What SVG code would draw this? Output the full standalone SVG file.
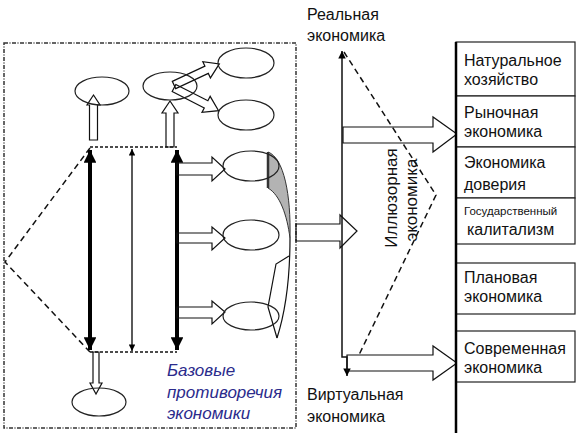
<svg xmlns="http://www.w3.org/2000/svg" width="582" height="438" viewBox="0 0 582 438">
<style>
.t{font-family:"Liberation Sans",Arial,sans-serif;font-size:16px;fill:#111}
.l{font-family:"Liberation Sans",Arial,sans-serif;font-size:16px;fill:#111}
.bl{fill:none;stroke:#111;stroke-width:1.2}
.el{fill:none;stroke:#222;stroke-width:1.2}
.box{fill:#fff;stroke:#222;stroke-width:1.2}
.dash{fill:none;stroke:#111;stroke-width:1.5;stroke-dasharray:6,4}
.fd{fill:none;stroke:#111;stroke-width:1.5;stroke-dasharray:3,2}
.it{font-family:"Liberation Sans",Arial,sans-serif;font-size:17px;font-style:italic;fill:#2b2b8c}
</style>
<defs>
<marker id="hb" viewBox="0 0 10 10" refX="10" refY="5" markerWidth="3.4" markerHeight="3.2" orient="auto-start-reverse" markerUnits="strokeWidth"><path d="M0,0 L10,5 L0,10 Z" fill="#000"/></marker>
<marker id="hs" viewBox="0 0 10 10" refX="10" refY="5" markerWidth="6" markerHeight="5" orient="auto-start-reverse" markerUnits="strokeWidth"><path d="M0,0 L10,5 L0,10 Z" fill="#000"/></marker>
</defs>
<rect width="582" height="438" fill="#fff"/>

<g id="frame">
<rect x="4" y="43" width="292" height="385" fill="none" stroke="#333" stroke-width="1.5" stroke-dasharray="4,1.5,1,1.5"/>
</g>

<g id="connectors">
<path class="dash" d="M90,148 L5,262 L90,352"/>
<path class="fd" d="M90,147 H177 M90,352 H177"/>
<line x1="90" y1="150" x2="90" y2="350" stroke="#000" stroke-width="4" marker-start="url(#hb)" marker-end="url(#hb)"/>
<line x1="132" y1="149" x2="132" y2="351" stroke="#000" stroke-width="1.3" marker-start="url(#hs)" marker-end="url(#hs)"/>
<line x1="177" y1="150" x2="177" y2="350" stroke="#000" stroke-width="4" marker-start="url(#hb)" marker-end="url(#hb)"/>
<polygon class="bl" points="89.5,140 89.5,105 87,105 93.5,95 100,105 97.5,105 97.5,140"/>
<polygon class="bl" points="166,147 166,113 162,113 170,101 178,113 174,113 174,147"/>
<polygon class="bl" points="93,352 93,383 90,383 96,394 102,383 99,383 99,352"/>
<polygon class="bl" points="0,-4 36,-4 36,-9 50,0 36,9 36,4 0,4" transform="translate(174,85) rotate(-25)"/>
<polygon class="bl" points="0,-4 36,-4 36,-9 50,0 36,9 36,4 0,4" transform="translate(174,88) rotate(27)"/>
<polygon class="bl" points="177,163 212,163 212,157 225,169 212,181 212,175 177,175"/>
<polygon class="bl" points="177,233 212,233 212,227 225,238 212,250 212,243 177,243"/>
<polygon class="bl" points="177,307 212,307 212,301 225,312 212,324 212,318 177,318"/>
<path d="M268,152 C284,158 291,195 290,238 C287,215 280,195 268,188 Z" fill="#b3b3b3" stroke="#333" stroke-width="1"/>
<line x1="268" y1="152" x2="268" y2="188" stroke="#333" stroke-width="2.5"/>
<path class="bl" d="M290,238 C290,275 286,310 277,338"/>
<path class="bl" d="M289,256 L276,264 L268,307 L277,338"/>
<polygon class="bl" points="296,224 340,224 340,215 357,231 340,248 340,241 296,241"/>
<path d="M342,51 V357 H347 V376" fill="none" stroke="#111" stroke-width="1.5" marker-start="url(#hs)" marker-end="url(#hs)"/>
<path class="dash" d="M344,52 L436,195 L358,357"/>
<polygon class="bl" points="343,127 433,127 433,117 457,134 433,152 433,143 343,143"/>
<polygon class="bl" points="347,355 433,355 433,346 457,363 433,380 433,371 347,371"/>
</g>

<g id="e1"><ellipse class="el" cx="102" cy="91" rx="27" ry="14"/></g>
<g id="e2"><ellipse class="el" cx="170" cy="86" rx="27" ry="14"/></g>
<g id="e3"><ellipse class="el" cx="246" cy="63" rx="28" ry="15"/></g>
<g id="e4"><ellipse class="el" cx="246" cy="115" rx="28" ry="15"/></g>
<g id="e5"><ellipse class="el" cx="251" cy="166" rx="28" ry="15"/></g>
<g id="e6"><ellipse class="el" cx="251" cy="235" rx="28" ry="15"/></g>
<g id="e7"><ellipse class="el" cx="251" cy="316" rx="28" ry="14"/></g>
<g id="e8"><ellipse class="el" cx="99" cy="402" rx="27" ry="14"/></g>

<g id="label-base">
<text class="it" x="167" y="376">Базовые</text>
<text class="it" x="167" y="398">противоречия</text>
<text class="it" x="167" y="419">экономики</text>
</g>
<g id="label-real">
<text class="l" x="307" y="20">Реальная</text>
<text class="l" x="307" y="41">экономика</text>
</g>
<g id="label-virtual">
<text class="l" x="307" y="400">Виртуальная</text>
<text class="l" x="307" y="422">экономика</text>
</g>
<g id="label-illusory">
<text class="l" style="font-size:17px" transform="translate(397,198) rotate(-90)" text-anchor="middle">Иллюзорная</text>
<text class="l" style="font-size:17px" transform="translate(417,200) rotate(-90)" text-anchor="middle">экономика</text>
</g>

<g id="b1"><rect class="box" x="456" y="42" width="119" height="54"/>
<text class="t" x="464" y="66">Натуральное</text><text class="t" x="464" y="85">хозяйство</text></g>
<g id="b2"><rect class="box" x="456" y="96" width="119" height="51"/>
<text class="t" x="464" y="118">Рыночная</text><text class="t" x="464" y="137">экономика</text></g>
<g id="b3"><rect class="box" x="456" y="147" width="119" height="51"/>
<text class="t" x="464" y="168">Экономика</text><text class="t" x="464" y="190">доверия</text></g>
<g id="b4"><rect class="box" x="456" y="198" width="119" height="46"/>
<text class="t" style="font-size:11.5px" x="464" y="215">Государственный</text><text class="t" x="467" y="235">калитализм</text></g>
<g id="b5"><rect class="box" x="456" y="263" width="119" height="51"/>
<text class="t" x="464" y="283">Плановая</text><text class="t" x="464" y="302">экономика</text></g>
<g id="b6"><rect class="box" x="456" y="331" width="119" height="51"/>
<text class="t" x="464" y="354">Современная</text><text class="t" x="464" y="373">экономика</text></g>
<line x1="456" y1="42" x2="456" y2="433" stroke="#000" stroke-width="2.5"/>
</svg>
